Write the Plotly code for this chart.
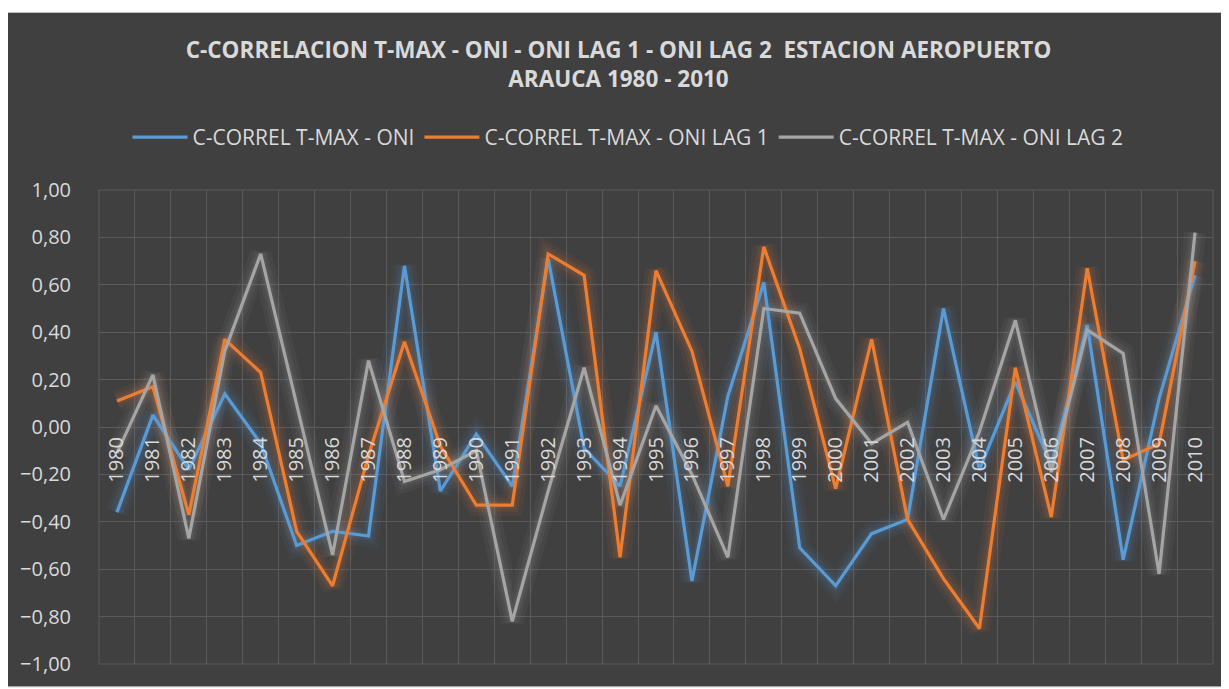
import plotly.graph_objects as go

years = [str(y) for y in range(1980, 2011)]

oni = [-0.36, 0.05, -0.18, 0.14, -0.07, -0.50, -0.44, -0.46, 0.68, -0.27,
       -0.03, -0.25, 0.71, -0.09, -0.25, 0.40, -0.65, 0.13, 0.61, -0.51,
       -0.67, -0.45, -0.39, 0.50, -0.18, 0.19, -0.16, 0.43, -0.56, 0.12, 0.64]

oni_lag1 = [0.11, 0.17, -0.37, 0.37, 0.23, -0.44, -0.67, -0.12, 0.36, -0.08,
            -0.33, -0.33, 0.73, 0.64, -0.55, 0.66, 0.32, -0.25, 0.76, 0.33,
            -0.26, 0.37, -0.39, -0.64, -0.85, 0.25, -0.38, 0.67, -0.14, -0.07, 0.70]

oni_lag2 = [-0.11, 0.22, -0.47, 0.32, 0.73, 0.10, -0.54, 0.28, -0.23, -0.18,
            -0.10, -0.82, -0.27, 0.25, -0.33, 0.09, -0.20, -0.55, 0.50, 0.48,
            0.12, -0.07, 0.02, -0.39, -0.02, 0.45, -0.19, 0.41, 0.31, -0.62, 0.82]

series = [
    ("C-CORREL T-MAX - ONI", oni, "#5B9BD5"),
    ("C-CORREL T-MAX - ONI LAG 1", oni_lag1, "#ED7D31"),
    ("C-CORREL T-MAX - ONI LAG 2", oni_lag2, "#A5A5A5"),
]

def rgba(hex_color, a):
    h = hex_color.lstrip("#")
    r, g, b = int(h[0:2], 16), int(h[2:4], 16), int(h[4:6], 16)
    return f"rgba({r},{g},{b},{a})"

fig = go.Figure()

# soft glow layers
for name, vals, col in series:
    for w, a in [(22, 0.06), (14, 0.08), (8, 0.10)]:
        fig.add_trace(go.Scatter(x=years, y=vals, mode="lines",
                                 line=dict(color=rgba(col, a), width=w),
                                 showlegend=False, hoverinfo="skip"))

for name, vals, col in series:
    fig.add_trace(go.Scatter(x=years, y=vals, mode="lines", name=name,
                             line=dict(color=col, width=3.2)))

# the page body adds an 8px offset; the figure is sized to fit the window
W, H = 1221, 681
ml, mr, mt, mb = 89, 16, 182, 21
pw, ph = W - ml - mr, H - mt - mb

def px_x(p):
    return (p - ml) / pw

def px_y(p):
    return (H - mb - p) / ph

txt = "#D9D9D9"
grid = "#5A5A5A"

fig.update_layout(
    width=W, height=H,
    margin=dict(l=ml, r=mr, t=mt, b=mb),
    paper_bgcolor="white",
    plot_bgcolor="rgba(0,0,0,0)",
    separators=",.",
    font=dict(family="Open Sans", color=txt),
    title=dict(
        text="<b>C-CORRELACION T-MAX - ONI - ONI LAG 1 - ONI LAG 2  ESTACION AEROPUERTO<br>ARAUCA 1980 - 2010</b>",
        x=0.5, xref="container", xanchor="center",
        y=1 - 50 / H, yref="container", yanchor="middle",
        font=dict(size=22.5, color=txt, family="Open Sans"),
    ),
    legend=dict(orientation="h", x=0.5 - 28 / pw, xanchor="center",
                y=px_y(129), yanchor="middle",
                font=dict(size=21, color=txt), bgcolor="rgba(0,0,0,0)",
                itemwidth=55, tracegroupgap=0),
    xaxis=dict(type="category", categoryorder="array", categoryarray=years,
               range=[-0.5, 30.5], anchor="free", position=0.5,
               tickangle=-90, tickfont=dict(size=20, color=txt),
               ticklabelstandoff=5,
               showgrid=True, gridcolor=grid, gridwidth=1,
               tickson="boundaries", ticks="", showline=False,
               zeroline=False, mirror=False),
    yaxis=dict(range=[-1, 1], dtick=0.2, tick0=0, tickformat=".2f",
               showgrid=True, gridcolor=grid, gridwidth=1,
               zeroline=True, zerolinecolor=grid, zerolinewidth=1,
               tickfont=dict(size=20, color=txt), ticks="",
               ticklabelstandoff=27, showline=False),
    shapes=[
        dict(type="rect", xref="paper", yref="paper", layer="below",
             x0=px_x(-5), x1=px_x(W + 2), y0=px_y(H + 2), y1=px_y(3),
             fillcolor="#404040", line=dict(color="#BFBFBF", width=1)),
        dict(type="rect", xref="paper", yref="paper", layer="below",
             x0=0, x1=1, y0=0, y1=1,
             fillcolor="rgba(0,0,0,0)", line=dict(color=grid, width=1)),
    ],
)

fig.write_html("out.html")
